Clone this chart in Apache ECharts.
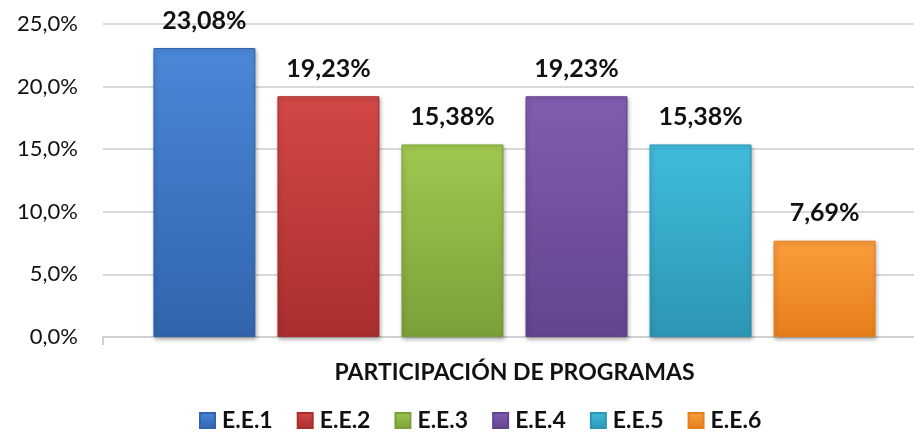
<!DOCTYPE html>
<html>
<head>
<meta charset="utf-8">
<script src="https://cdn.jsdelivr.net/npm/echarts@6/dist/echarts.min.js"></script>
<style>
  html, body { margin: 0; padding: 0; background: #fff; }
  #chart { width: 914px; height: 441px; }
</style>
</head>
<body>
<div id="chart"></div>
<script>
// datos
var categorias = ['PARTICIPACIÓN DE PROGRAMAS'];
var programas = ['E.E.1', 'E.E.2', 'E.E.3', 'E.E.4', 'E.E.5', 'E.E.6'];
var porcentajes = [23.08, 19.23, 15.38, 19.23, 15.38, 7.69];
var colores = [
    ['#4a88d8', '#3264ac'],
    ['#d24846', '#a82f2e'],
    ['#a0c850', '#7ba03a'],
    ['#805eb0', '#62448e'],
    ['#40bcdc', '#2c96b4'],
    ['#fc9d3c', '#e67e1c']
];

var fuente = 'Lato';

function fmt(v) {
    return v.toFixed(2).replace('.', ',') + '%';
}

var myChart = echarts.init(document.getElementById('chart'));

var series = programas.map(function (nombre, i) {
    return {
        name: nombre,
        type: 'bar',
        barWidth: 102,
        barGap: '21.6%',
        data: [porcentajes[i]],
        itemStyle: {
            color: new echarts.graphic.LinearGradient(0, 0, 0, 1, [
                { offset: 0, color: colores[i][0] },
                { offset: 1, color: colores[i][1] }
            ]),
            borderColor: colores[i][1],
            borderWidth: 1,
            shadowColor: 'rgba(0,0,0,0.3)',
            shadowBlur: 4,
            shadowOffsetX: 1,
            shadowOffsetY: 2
        },
        label: {
            show: true,
            position: 'top',
            distance: 15,
            formatter: function (p) { return fmt(p.value); },
            fontFamily: fuente,
            fontWeight: 'bold',
            fontSize: 25,
            color: '#111'
        }
    };
});

myChart.setOption({
    backgroundColor: '#fff',
    animation: false,
    color: colores.map(function (c) { return c[0]; }),
    grid: { left: 103, top: 24, width: 823, height: 313, containLabel: false, outerBoundsMode: 'none' },
    legend: {
        bottom: 4,
        left: 194,
        itemWidth: 15,
        itemHeight: 15,
        itemGap: 24,
        icon: 'rect',
        textStyle: { fontFamily: fuente, fontWeight: 'bold', fontSize: 23, color: '#111', padding: [0, 0, 0, 2] },
        data: programas
    },
    xAxis: {
        type: 'category',
        data: categorias,
        axisLine: { lineStyle: { color: '#d0d0d0', width: 2 } },
        axisTick: { show: true, alignWithLabel: false, length: 8, lineStyle: { color: '#d0d0d0', width: 2 } },
        axisLabel: {
            margin: 24,
            fontFamily: fuente,
            fontWeight: 'bold',
            fontSize: 23,
            color: '#111'
        }
    },
    yAxis: {
        type: 'value',
        min: 0,
        max: 25,
        interval: 5,
        axisLine: { show: false },
        axisTick: { show: false },
        splitLine: { lineStyle: { color: '#d9d9d9', width: 2 } },
        axisLabel: {
            margin: 25,
            fontFamily: fuente,
            fontSize: 22,
            color: '#111',
            formatter: function (v) { return v.toFixed(1).replace('.', ',') + '%'; }
        }
    },
    series: series
});
</script>
</body>
</html>
